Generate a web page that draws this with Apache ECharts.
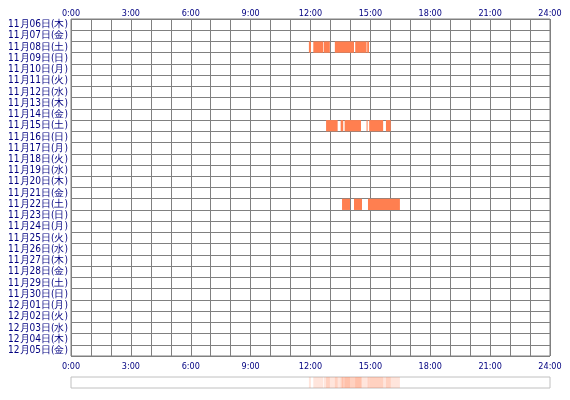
<!DOCTYPE html>
<html lang="ja">
<head>
<meta charset="UTF-8">
<script src="https://cdn.jsdelivr.net/npm/echarts@6/dist/echarts.min.js"></script>
</head>
<body style="margin:0">
<div id="chart" style="width:570px;height:400px;"></div>
<script>
var days = ['11月06日(木)','11月07日(金)','11月08日(土)','11月09日(日)','11月10日(月)','11月11日(火)','11月12日(水)','11月13日(木)','11月14日(金)','11月15日(土)','11月16日(日)','11月17日(月)','11月18日(火)','11月19日(水)','11月20日(木)','11月21日(金)','11月22日(土)','11月23日(日)','11月24日(月)','11月25日(火)','11月26日(水)','11月27日(木)','11月28日(金)','11月29日(土)','11月30日(日)','12月01日(月)','12月02日(火)','12月03日(水)','12月04日(木)','12月05日(金)'];
// [dayIndex, startHour, endHour]
var sessions = [
  [2, 11.92, 12.02], [2, 12.14, 12.64], [2, 12.67, 12.97], [2, 13.22, 14.18], [2, 14.24, 14.81], [2, 14.84, 14.93],
  [9, 12.78, 13.36], [9, 13.51, 13.64], [9, 13.71, 14.53], [9, 14.81, 14.86], [9, 14.94, 15.64], [9, 15.78, 16.02],
  [16, 13.58, 13.98], [16, 14.18, 14.58], [16, 14.88, 16.48]
];
var hourLabels = ['0:00','3:00','6:00','9:00','12:00','15:00','18:00','21:00','24:00'];

function renderBar(params, api) {
  var s = api.coord([api.value(1), api.value(0)]);
  var e = api.coord([api.value(2), api.value(0)]);
  var h = api.size([0, 1])[1];
  return {
    type: 'rect',
    shape: {x: s[0], y: s[1] - h / 2, width: e[0] - s[0], height: h},
    style: api.style()
  };
}
var labelStyle = {color: '#000080', fontSize: 9, fontFamily: 'DejaVu Sans Condensed'};
function xAxisCfg(gridIndex, pos, show, margin) {
  return {
    type: 'value', gridIndex: gridIndex, position: pos, min: 0, max: 24, interval: 1,
    axisLine: {show: false}, axisTick: {show: false},
    axisLabel: {show: show, formatter: function (v) { return v % 3 === 0 ? hourLabels[v / 3] : ''; }, margin: margin, ...labelStyle},
    splitLine: {show: gridIndex === 0, lineStyle: {color: '#808080', width: 1}}
  };
}
var chart = echarts.init(document.getElementById('chart'));
chart.setOption({
  animation: false,
  grid: [
    {left: 71, right: 20, top: 19, height: 337, show: true, borderColor: '#808080', borderWidth: 1},
    {left: 71, right: 20, top: 377, height: 11, show: true, borderColor: '#c0c0c0', borderWidth: 1}
  ],
  xAxis: [xAxisCfg(0, 'top', true, 1), xAxisCfg(0, 'bottom', true, 6), xAxisCfg(1, 'bottom', false, 6)],
  yAxis: [
    {type: 'category', gridIndex: 0, data: days, inverse: true,
     axisLine: {show: false}, axisTick: {show: false},
     axisLabel: {margin: 3, interval: 0, ...labelStyle, fontSize: 10},
     splitLine: {show: true, interval: 0, lineStyle: {color: '#808080'}}},
    {type: 'category', gridIndex: 1, data: [''], show: false}
  ],
  series: [
    {type: 'custom', xAxisIndex: 0, yAxisIndex: 0, renderItem: renderBar,
     itemStyle: {color: '#ff7f50'}, data: sessions},
    {type: 'custom', xAxisIndex: 2, yAxisIndex: 1, renderItem: renderBar,
     itemStyle: {color: '#ff7f50', opacity: 0.2},
     data: sessions.map(function (d) { return [0, d[1], d[2]]; })}
  ]
});
</script>
</body>
</html>
